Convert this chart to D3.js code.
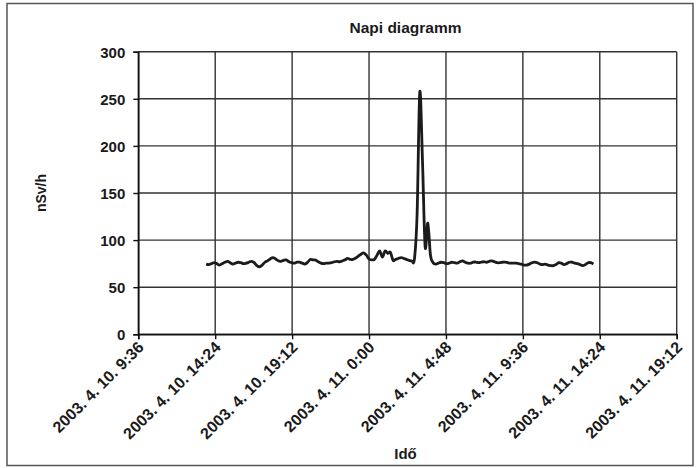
<!DOCTYPE html>
<html>
  <head>
    <meta charset="utf-8">
    <script src="https://cdnjs.cloudflare.com/ajax/libs/d3/7.8.5/d3.min.js"></script>
<style>
  body { margin: 0; background: #fff; }
  text { font-family: "Liberation Sans", Arial, sans-serif; font-weight: bold; fill: #1a1a1a; }
</style>
  </head>
  <body>
    <div id="vis"></div>
    <script type="text/javascript">

        // readings every 10 minutes, starting 2003-04-10 13:50
        const seriesStart = new Date(2003, 3, 10, 13, 50);
        const stepMinutes = 10;
        const doseRate = [
            74.5, 74, 75, 76, 75, 73.5, 75, 76.5, 77.5, 76, 74.5,
            75.5, 76.5, 76, 75, 75.5, 76.5, 77.5, 76, 73, 71.7,
            73.5, 76.5, 78, 80, 81.5, 80, 78, 77.5, 78.5, 79,
            77, 76, 75.5, 76.5, 76.5, 75.5, 74.5, 76.5, 79.5, 79,
            78.8, 77, 75.5, 75, 75.5, 75.5, 76, 77, 77.5, 77,
            78, 79, 80.5, 79.5, 79.5, 81, 83, 85, 86.5, 84,
            80, 79, 79.5, 84, 88.5, 82, 88.5, 86, 87, 78.5,
            79.5, 80.5, 81.5, 80.5, 79.5, 78.5, 78, 80, 128, 257, 185,
            93, 118, 84, 76, 74.5, 75.5, 76.5, 76, 75, 75.5,
            76.5, 76, 75.5, 77, 78, 76.5, 75.5, 75.5, 76.5, 76.7,
            76, 76.7, 77, 76.5, 77.5, 78, 77, 76, 76, 76.5,
            76.7, 76, 75.5, 75.5, 75.5, 75, 74.5, 73.5, 73.5, 74.5,
            76, 76.7, 76, 74.5, 74, 74.5, 73.5, 73, 72.8, 74,
            76, 75.5, 74, 75, 76.5, 76.5, 75.5, 75, 74, 72.8,
            74, 76, 76, 74.6
        ];

        const xTicks = [
            new Date(2003, 3, 10, 9, 36), new Date(2003, 3, 10, 14, 24), new Date(2003, 3, 10, 19, 12),
            new Date(2003, 3, 11, 0, 0), new Date(2003, 3, 11, 4, 48), new Date(2003, 3, 11, 9, 36),
            new Date(2003, 3, 11, 14, 24), new Date(2003, 3, 11, 19, 12)
        ];
        const yTicks = [0, 50, 100, 150, 200, 250, 300];

        const width = 696;
        const height = 468;
        const margin = {top: 51.7, right: 19.3, bottom: 133.7, left: 138.3};

        const svg = d3.select("#vis").append("svg")
            .attr("width", width)
            .attr("height", height);

        // outer frame
        svg.append("rect")
            .attr("x", 7).attr("y", 3.5)
            .attr("width", 686).attr("height", 462)
            .attr("fill", "none").attr("stroke", "#555").attr("stroke-width", 1.5);

        const data = doseRate.map((v, i) => ({t: new Date(seriesStart.getTime() + i * stepMinutes * 60000), v: v}));

        var x = d3.scaleTime()
            .domain([xTicks[0], xTicks[xTicks.length - 1]])
            .range([margin.left, width - margin.right]);
        var y = d3.scaleLinear()
            .domain([0, 300])
            .range([height - margin.bottom, margin.top]);

        // grid
        var grid = svg.append("g").attr("id", "grid").attr("stroke", "#333").attr("stroke-width", 1.4);
        grid.selectAll("line.h").data(yTicks).join("line").attr("class", "h")
            .attr("x1", x.range()[0]).attr("x2", x.range()[1])
            .attr("y1", d => y(d)).attr("y2", d => y(d));
        grid.selectAll("line.v").data(xTicks).join("line").attr("class", "v")
            .attr("x1", d => x(d)).attr("x2", d => x(d))
            .attr("y1", y.range()[0]).attr("y2", y.range()[1]);

        // axes
        var fmt = d3.timeFormat("%Y. %-m. %-d. %-H:%M");
        var xAxis = d3.axisBottom(x).tickValues(xTicks).tickSize(5).tickFormat(fmt);
        var yAxis = d3.axisLeft(y).tickValues(yTicks).tickSize(5);

        var gx = svg.append("g").attr("transform", "translate(0," + y(0) + ")").call(xAxis);
        var gy = svg.append("g").attr("transform", "translate(" + x.range()[0] + ",0)").call(yAxis);
        [gx, gy].forEach(g => {
            g.select(".domain").attr("stroke", "#111").attr("stroke-width", 1.6);
            g.selectAll(".tick line").attr("stroke", "#111").attr("stroke-width", 1.4);
        });
        gy.selectAll(".tick text").attr("x", -13).attr("dy", "0.36em").style("font-size", "15px");
        gx.selectAll(".tick text")
            .style("font-size", "16px")
            .attr("text-anchor", "end")
            .attr("y", 0).attr("dy", 0)
            .attr("transform", "translate(6,14) rotate(-45)");

        // series
        svg.append("path")
            .datum(data)
            .attr("fill", "none")
            .attr("stroke", "#1b1b1b")
            .attr("stroke-width", 2.8)
            .attr("stroke-linejoin", "round")
            .attr("d", d3.line().curve(d3.curveCardinal).x(d => x(d.t)).y(d => y(d.v)));

        // titles
        var cx = (x.range()[0] + x.range()[1]) / 2;
        svg.append("text").attr("x", cx - 2).attr("y", 33).attr("text-anchor", "middle")
            .style("font-size", "15.5px").text("Napi diagramm");
        svg.append("text").attr("x", cx - 2).attr("y", 459).attr("text-anchor", "middle")
            .style("font-size", "15px").text("Idő");
        svg.append("text").attr("transform", "translate(46," + ((y.range()[0] + y.range()[1]) / 2) + ") rotate(-90)")
            .attr("text-anchor", "middle").style("font-size", "14px").text("nSv/h");

    </script>
  </body>
</html>
